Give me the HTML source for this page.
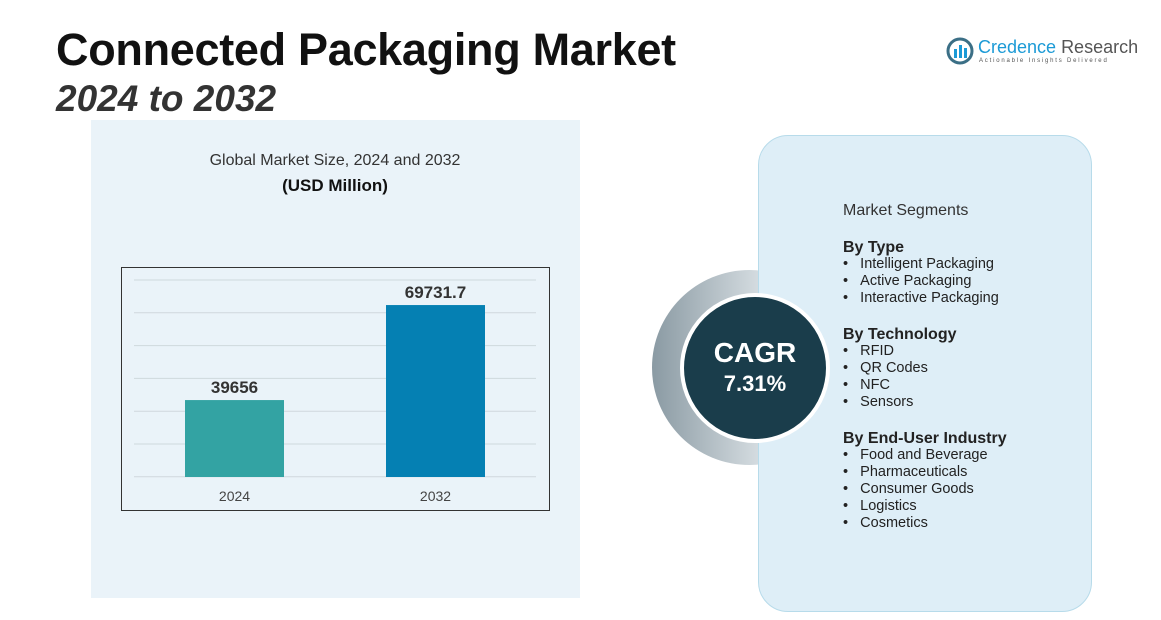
<!DOCTYPE html>
<html><head><meta charset="utf-8"><style>
body{margin:0;width:1161px;height:620px;background:#fff;position:relative;overflow:hidden;font-family:"Liberation Sans",sans-serif;}
.abs{position:absolute;}
</style></head><body>
<div class="abs" style="left:91px;top:120px;width:489px;height:478px;background:#eaf3f9;"></div>
<div class="abs" style="left:56px;top:24px;font-size:45px;font-weight:bold;color:#111;letter-spacing:-0.3px;">Connected Packaging Market</div>
<div class="abs" style="left:56px;top:78px;font-size:37px;font-weight:bold;font-style:italic;color:#333;">2024 to 2032</div>
<div class="abs" style="left:946px;top:37px;">
 <svg width="28" height="28"><circle cx="14" cy="14" r="12" fill="none" stroke="#3b6f86" stroke-width="3"/><rect x="8" y="12" width="3" height="9" fill="#1b9ad6"/><rect x="13" y="8" width="3" height="13" fill="#1b9ad6"/><rect x="18" y="11" width="3" height="10" fill="#1b9ad6"/></svg>
 <span class="abs" style="left:32px;top:0;font-size:18px;white-space:nowrap;"><span style="color:#1b9ad6">Credence</span> <span style="color:#555">Research</span></span>
 <span class="abs" style="left:33px;top:21px;font-size:6px;letter-spacing:1.8px;color:#555;white-space:nowrap;">Actionable Insights Delivered</span>
</div>
<div class="abs" style="left:120px;top:152px;width:430px;text-align:center;font-size:16px;color:#333;">Global Market Size, 2024 and 2032</div>
<div class="abs" style="left:120px;top:176px;width:430px;text-align:center;font-size:17px;font-weight:bold;color:#111;">(USD Million)</div>
<svg class="abs" id="chart" style="left:0;top:0" width="1161" height="620"></svg>
<div class="abs" style="left:652px;top:270px;width:195px;height:195px;border-radius:50%;background:linear-gradient(90deg,#8a9aa3,#e9eef1 70%,#ffffff);"></div>
<div class="abs" style="left:758px;top:135px;width:334px;height:477px;border-radius:30px;background:#deeef7;border:1px solid #b7dbea;box-sizing:border-box;"></div>
<div class="abs" style="left:680px;top:293px;width:150px;height:150px;border-radius:50%;background:#1a3d4b;border:4px solid #fff;box-sizing:border-box;color:#fff;text-align:center;">
 <div style="margin-top:40px;font-size:28px;font-weight:bold;">CAGR</div>
 <div style="font-size:22px;font-weight:bold;margin-top:2px;">7.31%</div>
</div>
<div class="abs" style="left:843px;top:202px;font-size:14.5px;color:#222;line-height:17px;">
 <div style="font-size:16px;color:#333;margin-bottom:20px;">Market Segments</div>
 <div style="font-weight:bold;font-size:16px;">By Type</div>
 <div>•&nbsp;&nbsp;&nbsp;Intelligent Packaging</div><div>•&nbsp;&nbsp;&nbsp;Active Packaging</div><div>•&nbsp;&nbsp;&nbsp;Interactive Packaging</div>
 <div style="font-weight:bold;font-size:16px;margin-top:19px;">By Technology</div>
 <div>•&nbsp;&nbsp;&nbsp;RFID</div><div>•&nbsp;&nbsp;&nbsp;QR Codes</div><div>•&nbsp;&nbsp;&nbsp;NFC</div><div>•&nbsp;&nbsp;&nbsp;Sensors</div>
 <div style="font-weight:bold;font-size:16px;margin-top:19px;">By End-User Industry</div>
 <div>•&nbsp;&nbsp;&nbsp;Food and Beverage</div><div>•&nbsp;&nbsp;&nbsp;Pharmaceuticals</div><div>•&nbsp;&nbsp;&nbsp;Consumer Goods</div><div>•&nbsp;&nbsp;&nbsp;Logistics</div><div>•&nbsp;&nbsp;&nbsp;Cosmetics</div>
</div>
<script>
const categories=["2024","2032"];
const values=[39656,69731.7];
const valueLabels=["39656","69731.7"];
const colors=["#33a3a3","#0580b3"];
const svg=document.getElementById('chart');
const NS="http://www.w3.org/2000/svg";
const base=477, vmin=15300, k=0.003159;
function y(v){return base-(v-vmin)*k;}
function x(i){return 185+i*201;}
function mk(t,a){const e=document.createElementNS(NS,t);for(const n in a)e.setAttribute(n,a[n]);svg.appendChild(e);return e;}
const fr=mk('rect',{x:121.5,y:267.5,width:428,height:243,fill:'none',stroke:'#333','stroke-width':1});


for(let g=0;g<7;g++){const l=mk('line',{x1:134,x2:536,y1:280+g*32.8,y2:280+g*32.8,stroke:'#cfd8dd','stroke-width':1});

}
values.forEach((v,i)=>{
 const r=mk('rect',{x:x(i),y:y(v),width:99,height:base-y(v),fill:colors[i]});
 
 
 const t=mk('text',{x:x(i)+49.5,y:y(v)-7,'text-anchor':'middle','font-size':17,'font-weight':'bold',fill:'#333','font-family':'Liberation Sans'});
 t.textContent=valueLabels[i];
 
 
 const c=mk('text',{x:x(i)+49.5,y:501,'text-anchor':'middle','font-size':14,fill:'#444','font-family':'Liberation Sans'});
 c.textContent=categories[i];
 
 
});
</script>
</body></html>
